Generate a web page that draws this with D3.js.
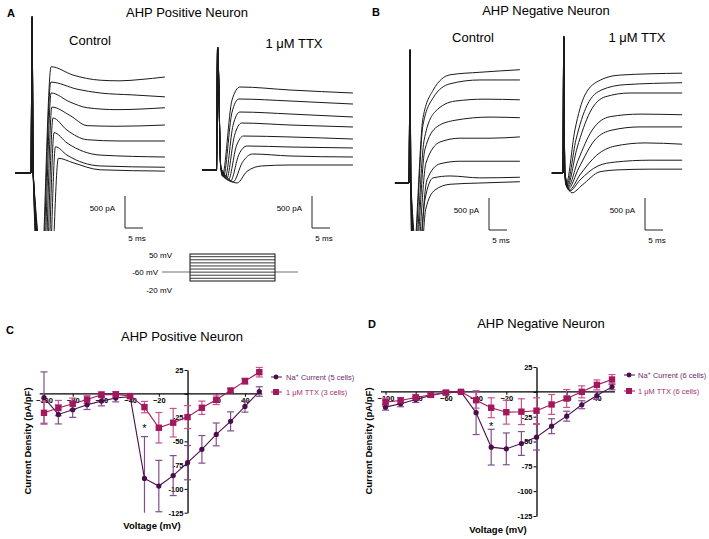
<!DOCTYPE html>
<html><head><meta charset="utf-8">
<script src="https://cdn.jsdelivr.net/npm/d3@7"></script>
<style>
body{margin:0;background:#fff}
svg{display:block;background:#fff}
text{font-family:"Liberation Sans",Arial,Helvetica,sans-serif}
</style>
</head><body>
<svg id="fig" width="709" height="539"></svg>
<script>
// ---------------- DATA ----------------
// I-V curves (panels C and D)
const volts = [-100,-90,-80,-70,-60,-50,-40,-30,-20,-10,0,10,20,30,40,50];
const naC     = [-4,-21.7,-16.8,-11.5,-7.7,-4.5,-3,-89,-97,-86,-72.4,-58.4,-42.7,-29,-13.3,2.4];
const naCErr  = [27,10,8,5,5,4,2,44,27,21,18,14.5,12,10,6,5];
const ttxC    = [-20,-15,-10.5,-6,-1,-0.7,-2.4,-14,-35.7,-30.4,-24.5,-14.7,-6.3,3.5,13.3,22.7];
const ttxCErr = [12,8,6,4,3,3,2,6,16,15,12,7,5,2,3,5];
const naD     = [-15.4,-12,-7.7,-3.7,-1,0,-21,-55.7,-57.4,-52,-45.6,-34.6,-24.5,-13,-3.7,5];
const naDErr  = [3,3,3,2,2,1,22,18,16,12,13,7.5,5,4,4,3];
const ttxD    = [-10.4,-8.7,-5.7,-3,-0.7,0,-8.4,-16,-20.5,-20,-19,-12.7,-6.7,0,7,12.4];
const ttxDErr = [4,3,3,2,2,1,8,10,12,13,13,10,9,6,5,5];
const yTicks  = [25,0,-25,-50,-75,-100,-125];
const xTickLabels = [-100,-80,-60,-40,-20,20,40];
const sigVolt = -30;

// Current traces [time ms, current pA] (panels A and B)
const aCtrlOnset = [[-4.4,0],[0,0],[0.3,2440],[0.6,0]];
const aCtrlTraces = [
  [[2.5,-2000],[5.6,1660],[11.7,1530],[19.2,1450],[24.7,1440],[30.3,1460],[37.2,1500]],
  [[2.8,-2000],[5.5,1420],[12.8,1310],[19.2,1250],[28.3,1220],[37.2,1190]],
  [[3.2,-2000],[5.6,1250],[10.8,1110],[15.6,1020],[23.9,990],[37.2,1020]],
  [[3.6,-2000],[5.8,1030],[10.8,900],[15.6,740],[23.9,730],[37.2,750]],
  [[4.0,-2000],[6.1,860],[10.0,670],[15.6,520],[24.7,500],[37.2,500]],
  [[4.4,-2000],[6.4,630],[10.0,470],[19.2,280],[37.2,250]],
  [[4.8,-2000],[6.8,410],[10.0,280],[19.2,110],[37.2,90]],
  [[5.3,-2000],[7.6,230],[11.7,160],[19.2,50],[37.2,30]]
];
const aTtxOnset = [[-4.0,0],[0,0],[0.3,1920],[1.2,30]];
const aTtxTraces = [
  [[1.6,-94],[4.3,1090],[6.5,1297],[20.4,1250],[37.9,1203]],
  [[1.9,-109],[4.3,900],[6.2,1109],[20.4,1078],[37.9,1031]],
  [[2.4,-125],[4.6,700],[6.5,906],[20.4,875],[37.9,828]],
  [[2.8,-141],[5.0,540],[7.0,734],[20.4,703],[37.9,672]],
  [[3.3,-156],[5.5,370],[7.5,531],[20.4,516],[37.9,484]],
  [[3.9,-172],[6.2,240],[8.5,375],[20.4,359],[37.9,344]],
  [[4.6,-188],[7.2,120],[10.0,250],[20.4,219],[37.9,203]],
  [[5.7,-203],[8.5,-20],[12.5,63],[20.4,78],[37.9,78]]
];
const bCtrlOnset = [[-3.9,0],[0,0],[0.3,2080],[0.5,0]];
const bCtrlTraces = [
  [[0.9,-1400],[3.9,1020],[6.7,1450],[11.4,1690],[19.7,1730],[30.8,1770]],
  [[1.1,-1400],[3.9,910],[6.7,1330],[11.4,1550],[19.7,1610],[30.8,1610]],
  [[1.3,-1400],[4.2,670],[7.2,1110],[12.8,1280],[21.1,1310],[30.8,1300]],
  [[1.6,-1400],[4.4,520],[7.8,880],[12.8,980],[22.5,1030],[30.8,1020]],
  [[1.9,-1400],[4.7,310],[8.6,640],[14.2,700],[22.5,700],[30.8,720]],
  [[2.2,-1400],[5.0,50],[8.6,300],[14.2,340],[22.5,340],[30.8,340]],
  [[2.6,-1400],[4.4,-270],[6.7,80],[11.4,110],[19.7,80],[30.8,90]],
  [[3.1,-1400],[4.6,-420],[7.2,-110],[11.4,-20],[19.7,0],[30.8,20]]
];
const bTtxOnset = [[-3.1,0],[0,0],[0.2,2130],[0.5,0]];
const bTtxTraces = [
  [[0.8,-190],[3.3,670],[6.1,1220],[10.3,1450],[15.8,1530],[33.1,1560]],
  [[1.0,-200],[3.6,520],[6.7,1060],[10.8,1300],[17.2,1380],[33.1,1410]],
  [[1.1,-220],[3.9,390],[7.5,950],[11.7,1190],[18.6,1250],[33.1,1250]],
  [[1.25,-230],[4.2,200],[8.1,670],[13.1,880],[21.4,920],[33.1,910]],
  [[1.4,-250],[4.4,80],[8.9,520],[13.6,670],[21.4,720],[33.1,720]],
  [[1.7,-270],[4.7,-30],[9.4,280],[14.4,420],[22.8,470],[33.1,450]],
  [[1.9,-280],[4.7,-110],[9.7,110],[14.4,170],[24.2,200],[33.1,200]],
  [[2.5,-310],[5.3,-190],[10.3,20],[15.8,50],[24.2,60],[33.1,60]]
];
const stepLevels = [50,40,30,20,10,0,-10,-20];
const scaleBar = {pA:500, ms:5};

// ---------------- DRAW ----------------
const svg = d3.select('#fig');
const NA = '#4a0e4e', NAERR = '#80508a', TTX = '#a3185c', TTXERR = '#c8548e';

svg.append('defs').append('clipPath').attr('id','clipTop')
  .append('rect').attr('x',0).attr('y',0).attr('width',709).attr('height',231);

function txt(x,y,s,opt={}){
  const t = svg.append('text').attr('x',x).attr('y',y).text(s)
    .attr('font-size',opt.size||13).attr('fill',opt.fill||'#000')
    .attr('text-anchor',opt.anchor||'middle');
  if(opt.bold) t.attr('font-weight','bold');
  return t;
}

// Panel letters and titles
txt(7,17,'A',{size:11,bold:true,anchor:'start'});
txt(187,17,'AHP Positive Neuron');
txt(372,16,'B',{size:11,bold:true,anchor:'start'});
txt(546,15,'AHP Negative Neuron');
txt(90,45,'Control');
txt(294,48,'1 \u03BCM TTX');
txt(473,42,'Control');
txt(637,42,'1 \u03BCM TTX');

function tracePanel(cfg, onset, list){
  const x = d3.scaleLinear().domain([0,scaleBar.ms]).range([cfg.x0, cfg.x0+18]);
  const y = d3.scaleLinear().domain([0,scaleBar.pA]).range([cfg.y0, cfg.y0-32]);
  const line = d3.line().x(d=>x(d[0])).y(d=>y(d[1])).curve(d3.curveMonotoneX);
  const g = svg.append('g');
  if(cfg.clip) g.attr('clip-path','url(#clipTop)');
  list.forEach(tr=>{
    g.append('path').attr('d', line(onset.concat(tr)))
      .attr('fill','none').attr('stroke','#1a1a1a').attr('stroke-width',1)
      .attr('stroke-linejoin','round');
  });
  const bx = cfg.bx, by = cfg.by;
  const h = y(0)-y(scaleBar.pA), w = x(scaleBar.ms)-x(0);
  svg.append('path').attr('d',`M${bx},${by-h}V${by}H${bx+w}`)
    .attr('fill','none').attr('stroke','#222').attr('stroke-width',1);
  txt(bx-10, by-17, scaleBar.pA+' pA',{size:8,anchor:'end'});
  txt(bx+12, by+13, scaleBar.ms+' ms',{size:8});
}
tracePanel({x0:31,y0:173,clip:true,bx:125,by:228}, aCtrlOnset, aCtrlTraces);
tracePanel({x0:216.5,y0:170,bx:312,by:228}, aTtxOnset, aTtxTraces);
tracePanel({x0:409,y0:183,clip:true,bx:489,by:230}, bCtrlOnset, bCtrlTraces);
tracePanel({x0:563,y0:173,bx:645,by:230}, bTtxOnset, bTtxTraces);

// Voltage protocol inset
(function(){
  const vy = d3.scalePoint().domain(stepLevels).range([256.7,278.3]);
  svg.append('line').attr('x1',162).attr('x2',190).attr('y1',272).attr('y2',272).attr('stroke','#888').attr('stroke-width',1.2);
  svg.append('line').attr('x1',275).attr('x2',298).attr('y1',272).attr('y2',272).attr('stroke','#888').attr('stroke-width',1.2);
  svg.append('rect').attr('x',190).attr('y',254).attr('width',85).attr('height',27)
    .attr('fill','none').attr('stroke','#111').attr('stroke-width',1);
  svg.selectAll('line.step').data(stepLevels).enter().append('line').attr('class','step')
    .attr('x1',190).attr('x2',275).attr('y1',d=>vy(d)).attr('y2',d=>vy(d))
    .attr('stroke','#222').attr('stroke-width',0.9);
  txt(172,258,'50 mV',{size:8,anchor:'end'});
  txt(158,275,'-60 mV',{size:8,anchor:'end'});
  txt(172,293,'-20 mV',{size:8,anchor:'end'});
})();

// I-V panels
function ivPanel(cfg){
  const x = d3.scaleLinear().domain([-100,50]).range(cfg.xr);
  const y = d3.scaleLinear().domain([25,-125]).range(cfg.yr);
  const g = svg.append('g');
  g.append('line').attr('x1',x(-103)).attr('x2',x(50)+3).attr('y1',y(0)).attr('y2',y(0))
    .attr('stroke','#000').attr('stroke-width',1.3);
  const xa = g.append('g').attr('transform',`translate(0,${y(0)})`)
    .call(d3.axisBottom(x).tickValues(xTickLabels).tickSize(3).tickPadding(1).tickSizeOuter(0));
  xa.select('.domain').remove();
  xa.selectAll('text').attr('font-size',7.5).attr('font-weight','bold').attr('font-family','"Liberation Sans",Arial,sans-serif');
  xa.selectAll('line').attr('stroke-width',1);
  const ya = g.append('g').attr('transform',`translate(${x(0)},0)`)
    .call(d3.axisLeft(y).tickValues(yTicks).tickSize(3).tickPadding(1).tickSizeOuter(0)
      .tickFormat(d=>d===0?'':d));
  ya.select('.domain').attr('stroke-width',1.3);
  ya.selectAll('text').attr('font-size',7.5).attr('font-weight','bold').attr('font-family','"Liberation Sans",Arial,sans-serif');

  function errs(vals, errv, color){
    vals.forEach((v,i)=>{
      const xx = x(volts[i]);
      const lo = Math.max(v-errv[i], -125), hi = v+errv[i];
      g.append('line').attr('x1',xx).attr('x2',xx).attr('y1',y(hi)).attr('y2',y(lo)).attr('stroke',color).attr('stroke-width',1.2);
      g.append('line').attr('x1',xx-3.5).attr('x2',xx+3.5).attr('y1',y(hi)).attr('y2',y(hi)).attr('stroke',color).attr('stroke-width',1.2);
      if(v-errv[i] > -125)
        g.append('line').attr('x1',xx-3.5).attr('x2',xx+3.5).attr('y1',y(lo)).attr('y2',y(lo)).attr('stroke',color).attr('stroke-width',1.2);
    });
  }
  errs(cfg.na, cfg.naErr, NAERR);
  errs(cfg.ttx, cfg.ttxErr, TTXERR);
  const line = d3.line().x((d,i)=>x(volts[i])).y(d=>y(d));
  g.append('path').attr('d',line(cfg.na)).attr('fill','none').attr('stroke',NA).attr('stroke-width',1.1);
  g.append('path').attr('d',line(cfg.ttx)).attr('fill','none').attr('stroke',TTX).attr('stroke-width',1.1);
  cfg.na.forEach((v,i)=>g.append('circle').attr('cx',x(volts[i])).attr('cy',y(v)).attr('r',2.6).attr('fill',NA));
  cfg.ttx.forEach((v,i)=>g.append('rect').attr('x',x(volts[i])-3.2).attr('y',y(v)-3.2).attr('width',6.4).attr('height',6.4).attr('fill',TTX));
  txt(x(sigVolt), cfg.starY, '*',{size:11});
  const lx = cfg.lx;
  g.append('line').attr('x1',lx-5).attr('x2',lx+6).attr('y1',cfg.ly1).attr('y2',cfg.ly1).attr('stroke',NA);
  g.append('circle').attr('cx',lx).attr('cy',cfg.ly1).attr('r',2.4).attr('fill',NA);
  g.append('line').attr('x1',lx-5).attr('x2',lx+6).attr('y1',cfg.ly2).attr('y2',cfg.ly2).attr('stroke',TTX);
  g.append('rect').attr('x',lx-3).attr('y',cfg.ly2-3).attr('width',6).attr('height',6).attr('fill',TTX);
  const t1 = svg.append('text').attr('x',cfg.tx).attr('y',cfg.ly1+2.7).attr('font-size',7.5).attr('fill','#6a2a6e');
  t1.append('tspan').text('Na');
  t1.append('tspan').text('+').attr('dy',-3).attr('font-size',5.5);
  t1.append('tspan').text(' Current ('+cfg.nNa+' cells)').attr('dy',3);
  svg.append('text').attr('x',cfg.tx).attr('y',cfg.ly2+2.7).attr('font-size',7.5).attr('fill','#a8306a')
    .text('1 \u03BCM TTX ('+cfg.nTtx+' cells)');
  txt(cfg.letterX, cfg.letterY, cfg.letter,{size:11,bold:true,anchor:'start'});
  txt(cfg.titleX, cfg.titleY, cfg.title);
  svg.append('text').attr('transform',`translate(${cfg.ylabX},441) rotate(-90)`)
    .attr('text-anchor','middle').attr('font-size',9.5).attr('font-weight','bold').text('Current Density (pA/pF)');
  txt(cfg.xlabX, cfg.xlabY, 'Voltage (mV)',{size:9.5,bold:true});
}

ivPanel({xr:[44,259.3], yr:[370,512.7], na:naC, naErr:naCErr, ttx:ttxC, ttxErr:ttxCErr,
  starY:432, lx:276, tx:286, ly1:377, ly2:392, nNa:5, nTtx:3,
  letter:'C', letterX:6, letterY:334, titleX:182, titleY:341, title:'AHP Positive Neuron',
  ylabX:31, xlabX:152, xlabY:529});
ivPanel({xr:[385.5,612], yr:[367,516], na:naD, naErr:naDErr, ttx:ttxD, ttxErr:ttxDErr,
  starY:430, lx:629, tx:638, ly1:375, ly2:391, nNa:6, nTtx:6,
  letter:'D', letterX:368, letterY:328, titleX:541, titleY:328, title:'AHP Negative Neuron',
  ylabX:372, xlabX:498, xlabY:533});
</script>
</body></html>
